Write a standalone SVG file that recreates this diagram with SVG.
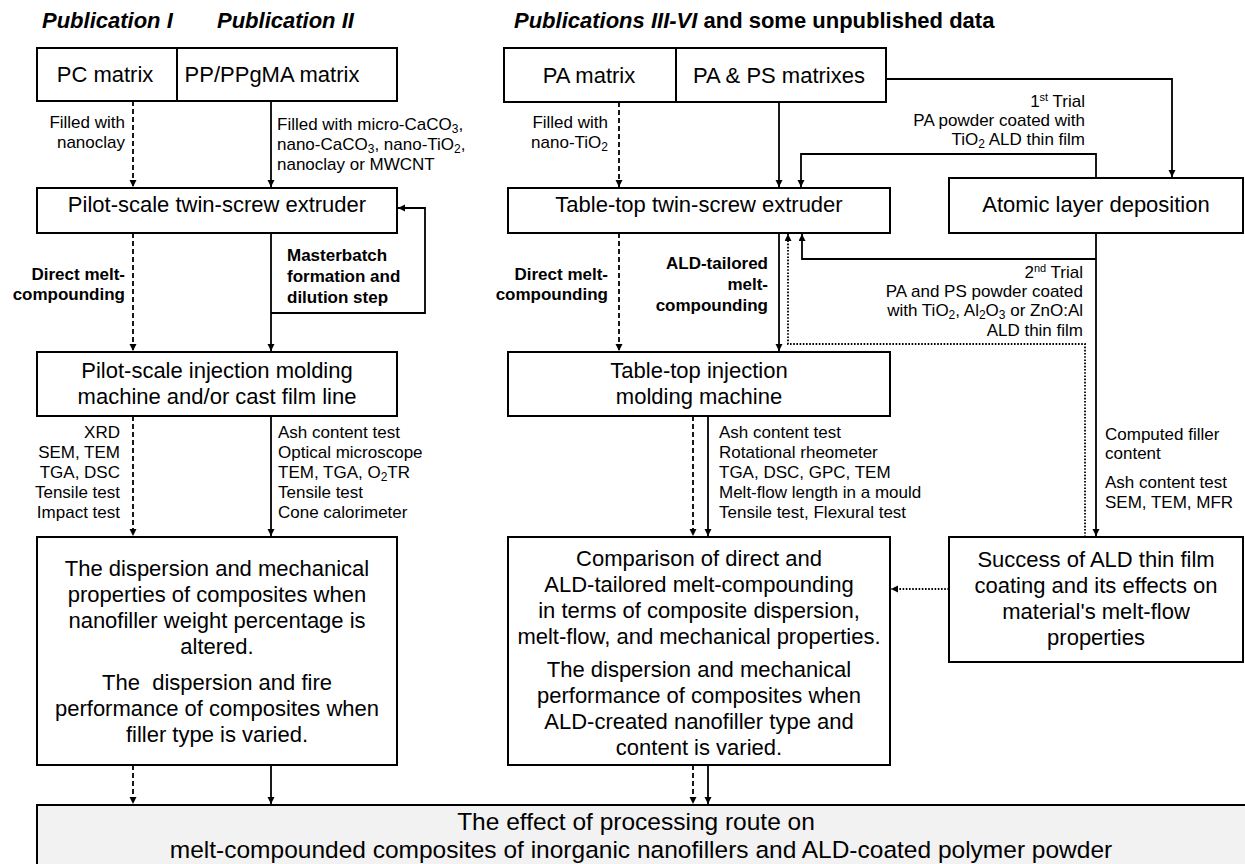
<svg xmlns="http://www.w3.org/2000/svg" width="1245" height="864" viewBox="0 0 1245 864">
<defs>
<marker id="ah" markerUnits="userSpaceOnUse" markerWidth="8" markerHeight="8" refX="7" refY="3.5" orient="auto"><path d="M0,0 L7,3.5 L0,7 z" fill="#000" stroke="none"/></marker>
<style>
text{font-family:"Liberation Sans",Arial,sans-serif;fill:#000}
.hdr{font-size:22px;font-weight:bold}
.box{fill:#fff;stroke:#000;stroke-width:2}
.bt{font-size:22px;text-anchor:middle}
.sm{font-size:17px}
.bd{font-size:17px;font-weight:bold}
.e{text-anchor:end}
.c{fill:none;stroke:#000;stroke-width:1.8;marker-end:url(#ah)}
.dash{stroke-dasharray:5,3}
.dot{stroke-dasharray:1.6,1.6}
.sub{font-size:12px}
</style>
</defs>
<rect width="1245" height="864" fill="#fff"/>

<g id="headers">
<text class="hdr" x="42" y="28" font-style="italic">Publication I</text>
<text class="hdr" x="217" y="28" font-style="italic">Publication II</text>
<text class="hdr" x="514" y="28"><tspan font-style="italic">Publications III-VI</tspan> and some unpublished data</text>
</g>

<g id="connectors">
<path class="c dash" d="M133,101 V187"/>
<path class="c" d="M271,101 V187"/>
<path class="c dash" d="M133,233 V351"/>
<path class="c" d="M271,233 V351"/>
<path class="c" d="M271,313 H425 V208 H398"/>
<path class="c dash" d="M133,416 V536"/>
<path class="c" d="M271,416 V536"/>
<path class="c dash" d="M133,765 V804"/>
<path class="c" d="M271,765 V804"/>

<path class="c dash" d="M619,102 V187"/>
<path class="c" d="M779,102 V187"/>
<path class="c" d="M886,79 H1172 V177"/>
<path class="c" d="M1096,178 V154 H801 V187"/>
<path class="c dash" d="M619,233 V351"/>
<path class="c" d="M779,233 V351"/>
<path class="c" d="M1096,233 V536"/>
<path class="c" d="M1096,259 H802 V234"/>
<path class="c dot" d="M1085,537 V344 H788 V234"/>
<path class="c dash" d="M693,416 V536"/>
<path class="c" d="M708,416 V536"/>
<path class="c dot" d="M949,589 H891"/>
<path class="c dash" d="M693,765 V804"/>
<path class="c" d="M708,765 V804"/>

<text class="sm e" x="125" y="128">Filled with</text>
<text class="sm e" x="125" y="148">nanoclay</text>
<text class="sm" x="277" y="130">Filled with micro-CaCO<tspan class="sub" dy="3">3</tspan><tspan dy="-3">,</tspan></text>
<text class="sm" x="277" y="150">nano-CaCO<tspan class="sub" dy="3">3</tspan><tspan dy="-3">, nano-TiO</tspan><tspan class="sub" dy="3">2</tspan><tspan dy="-3">,</tspan></text>
<text class="sm" x="277" y="170">nanoclay or MWCNT</text>

<text class="bd e" x="125" y="280">Direct melt-</text>
<text class="bd e" x="125" y="300">compounding</text>
<text class="bd" x="287" y="261">Masterbatch</text>
<text class="bd" x="287" y="282">formation and</text>
<text class="bd" x="287" y="303">dilution step</text>

<text class="sm e" x="120" y="438">XRD</text>
<text class="sm e" x="120" y="458">SEM, TEM</text>
<text class="sm e" x="120" y="478">TGA, DSC</text>
<text class="sm e" x="120" y="498">Tensile test</text>
<text class="sm e" x="120" y="518">Impact test</text>
<text class="sm" x="278" y="438">Ash content test</text>
<text class="sm" x="278" y="458">Optical microscope</text>
<text class="sm" x="278" y="478">TEM, TGA, O<tspan class="sub" dy="3">2</tspan><tspan dy="-3">TR</tspan></text>
<text class="sm" x="278" y="498">Tensile test</text>
<text class="sm" x="278" y="518">Cone calorimeter</text>

<text class="sm e" x="608" y="128">Filled with</text>
<text class="sm e" x="608" y="148">nano-TiO<tspan class="sub" dy="3">2</tspan></text>

<text class="sm e" x="1085" y="107">1<tspan font-size="11" dy="-6">st</tspan><tspan dy="6"> Trial</tspan></text>
<text class="sm e" x="1085" y="126">PA powder coated with</text>
<text class="sm e" x="1085" y="145">TiO<tspan class="sub" dy="3">2</tspan><tspan dy="-3"> ALD thin film</tspan></text>

<text class="bd e" x="608" y="280">Direct melt-</text>
<text class="bd e" x="608" y="300">compounding</text>
<text class="bd e" x="768" y="269">ALD-tailored</text>
<text class="bd e" x="768" y="290">melt-</text>
<text class="bd e" x="768" y="311">compounding</text>

<text class="sm e" x="1083" y="278">2<tspan font-size="11" dy="-6">nd</tspan><tspan dy="6"> Trial</tspan></text>
<text class="sm e" x="1083" y="297">PA and PS powder coated</text>
<text class="sm e" x="1083" y="316">with TiO<tspan class="sub" dy="3">2</tspan><tspan dy="-3">, Al</tspan><tspan class="sub" dy="3">2</tspan><tspan dy="-3">O</tspan><tspan class="sub" dy="3">3</tspan><tspan dy="-3"> or ZnO:Al</tspan></text>
<text class="sm e" x="1083" y="336">ALD thin film</text>

<text class="sm" x="719" y="438">Ash content test</text>
<text class="sm" x="719" y="458">Rotational rheometer</text>
<text class="sm" x="719" y="478">TGA, DSC, GPC, TEM</text>
<text class="sm" x="719" y="498">Melt-flow length in a mould</text>
<text class="sm" x="719" y="518">Tensile test, Flexural test</text>

<text class="sm" x="1105" y="440">Computed filler</text>
<text class="sm" x="1105" y="459">content</text>
<text class="sm" x="1105" y="488">Ash content test</text>
<text class="sm" x="1105" y="508">SEM, TEM, MFR</text>
</g>

<g id="pc-matrix">
<rect class="box" x="37" y="48" width="140" height="53"/>
<text class="bt" x="105" y="82">PC matrix</text>
</g>
<g id="pp-matrix">
<rect class="box" x="177" y="48" width="220" height="53"/>
<text class="bt" x="272" y="82">PP/PPgMA matrix</text>
</g>
<g id="pa-matrix">
<rect class="box" x="504" y="48" width="172" height="54"/>
<text class="bt" x="589" y="83">PA matrix</text>
</g>
<g id="pa-ps-matrixes">
<rect class="box" x="676" y="48" width="210" height="54"/>
<text class="bt" x="779" y="83">PA &amp; PS matrixes</text>
</g>
<g id="pilot-extruder">
<rect class="box" x="37" y="188" width="360" height="45"/>
<text class="bt" x="217" y="212">Pilot-scale twin-screw extruder</text>
</g>
<g id="tabletop-extruder">
<rect class="box" x="508" y="188" width="382" height="45"/>
<text class="bt" x="699" y="212">Table-top twin-screw extruder</text>
</g>
<g id="ald">
<rect class="box" x="949" y="178" width="294" height="55"/>
<text class="bt" x="1096" y="212">Atomic layer deposition</text>
</g>
<g id="pilot-injection">
<rect class="box" x="37" y="352" width="360" height="64"/>
<text class="bt" x="217" y="378">Pilot-scale injection molding</text>
<text class="bt" x="217" y="404">machine and/or cast film line</text>
</g>
<g id="tabletop-injection">
<rect class="box" x="508" y="352" width="382" height="64"/>
<text class="bt" x="699" y="378">Table-top injection</text>
<text class="bt" x="699" y="404">molding machine</text>
</g>
<g id="result-left">
<rect class="box" x="37" y="537" width="360" height="228"/>
<text class="bt" x="217" y="576">The dispersion and mechanical</text>
<text class="bt" x="217" y="602">properties of composites when</text>
<text class="bt" x="217" y="628">nanofiller weight percentage is</text>
<text class="bt" x="217" y="654">altered.</text>
<text class="bt" x="217" y="690" xml:space="preserve">The  dispersion and fire</text>
<text class="bt" x="217" y="716">performance of composites when</text>
<text class="bt" x="217" y="742">filler type is varied.</text>
</g>
<g id="comparison">
<rect class="box" x="508" y="537" width="382" height="228"/>
<text class="bt" x="699" y="566">Comparison of direct and</text>
<text class="bt" x="699" y="592">ALD-tailored melt-compounding</text>
<text class="bt" x="699" y="618">in terms of composite dispersion,</text>
<text class="bt" x="699" y="644">melt-flow, and mechanical properties.</text>
<text class="bt" x="699" y="677">The dispersion and mechanical</text>
<text class="bt" x="699" y="703">performance of composites when</text>
<text class="bt" x="699" y="729">ALD-created nanofiller type and</text>
<text class="bt" x="699" y="755">content is varied.</text>
</g>
<g id="success">
<rect class="box" x="949" y="537" width="294" height="125"/>
<text class="bt" x="1096" y="567">Success of ALD thin film</text>
<text class="bt" x="1096" y="593">coating and its effects on</text>
<text class="bt" x="1096" y="619">material's melt-flow</text>
<text class="bt" x="1096" y="645">properties</text>
</g>
<g id="conclusion">
<rect x="37" y="805" width="1230" height="80" fill="#f2f2f2" stroke="#000" stroke-width="2"/>
<text class="bt" x="636" y="830" style="font-size:24.5px">The effect of processing route on</text>
<text class="bt" x="641" y="858" style="font-size:24.5px">melt-compounded composites of inorganic nanofillers and ALD-coated polymer powder</text>
</g>
</svg>
